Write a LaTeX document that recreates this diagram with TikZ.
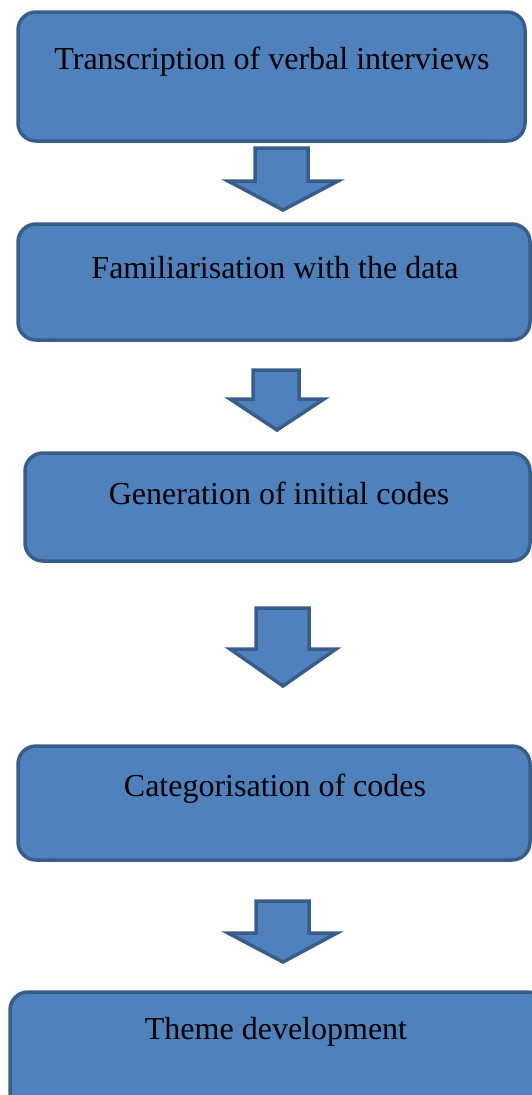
\documentclass[tikz,border=0pt]{standalone}
\usepackage{fontspec}
\setmainfont{Liberation Serif}
\definecolor{boxfill}{HTML}{4F81BD}
\definecolor{boxline}{HTML}{385D8A}
\tikzset{
  stagebox/.style={draw=boxline, fill=boxfill, line width=3.5pt, rounded corners=18pt, inner sep=0pt},
  blockarrow/.style={draw=boxline, fill=boxfill, line width=3.5pt, line join=miter},
  lbl/.style={font=\fontsize{32}{36}\selectfont, text=black, inner sep=0pt}
}
\begin{document}
\begin{tikzpicture}[x=1pt,y=-1pt]
\useasboundingbox (0,0) rectangle (531,1095);
% boxes
\draw[stagebox] (18,12) rectangle (525,141);
\draw[stagebox] (18,224) rectangle (530,340);
\draw[stagebox] (25,453) rectangle (530,561);
\draw[stagebox] (18,746) rectangle (530,860);
\draw[stagebox] (10,992) rectangle (545,1115);
% labels
\node[lbl] (t1) at (272,62) {Transcription of verbal interviews};
\node[lbl] (t2) at (275,268) {Familiarisation with the data};
\node[lbl] (t3) at (279,493) {Generation of initial codes};
\node[lbl] (t4) at (275,789) {Categorisation of codes};
\node[lbl] (t5) at (276,1032) {Theme development};
% arrows
\draw[blockarrow] (255,148) -- (308,148) -- (308,181) -- (338,181) -- (283,210) -- (228,181) -- (255,181) -- cycle;
\draw[blockarrow] (253,370) -- (299,370) -- (299,399) -- (324,399) -- (277,430) -- (230,399) -- (253,399) -- cycle;
\draw[blockarrow] (256,608) -- (309,608) -- (309,649) -- (336,649) -- (283,686) -- (230,649) -- (256,649) -- cycle;
\draw[blockarrow] (256,901) -- (309,901) -- (309,933) -- (337,933) -- (283,962) -- (228,933) -- (256,933) -- cycle;
\end{tikzpicture}
\end{document}
